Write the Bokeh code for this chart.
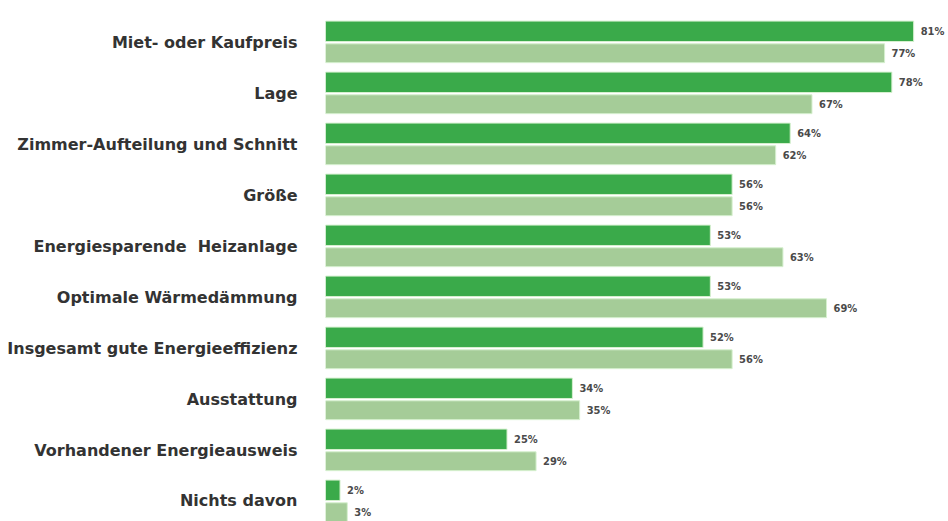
from bokeh.plotting import figure
from bokeh.models import Range1d, FixedTicker, ColumnDataSource
from bokeh.core.properties import value
from bokeh.embed import file_html
from bokeh.resources import INLINE

categories = [
    "Miet- oder Kaufpreis",
    "Lage",
    "Zimmer-Aufteilung und Schnitt",
    "Größe",
    "Energiesparende \u00a0Heizanlage",
    "Optimale Wärmedämmung",
    "Insgesamt gute Energieeffizienz",
    "Ausstattung",
    "Vorhandener Energieausweis",
    "Nichts davon",
]
series_dark = [81, 78, 64, 56, 53, 53, 52, 34, 25, 2]
series_light = [77, 67, 62, 56, 63, 69, 56, 35, 29, 3]

DARK = "#3aaa4a"
LIGHT = "#a5cc98"
EDGE = "#d6f0cf"
LABEL_FONT = "DejaVu Sans"

idx = list(range(len(categories)))
dark_src = ColumnDataSource(dict(
    y=[i - 0.21 for i in idx], v=series_dark,
    t=[f"{v}%" for v in series_dark]))
light_src = ColumnDataSource(dict(
    y=[i + 0.22 for i in idx], v=series_light,
    t=[f"{v}%" for v in series_light]))

p = figure(width=948, height=521, output_backend="svg", toolbar_location=None,
           x_range=Range1d(0, 85.8), y_range=Range1d(9.402, -0.814),
           min_border_left=325, min_border_right=0, min_border_top=0,
           min_border_bottom=0, outline_line_color=None,
           background_fill_color="white", border_fill_color="white")

p.hbar(y="y", right="v", left=0, height=0.40, source=dark_src,
       fill_color=DARK, line_color=EDGE, line_width=1)
p.hbar(y="y", right="v", left=0, height=0.37, source=light_src,
       fill_color=LIGHT, line_color=EDGE, line_width=1)

for src in (dark_src, light_src):
    p.text(x="v", y="y", text="t", source=src, x_offset=7,
           text_baseline="middle", text_align="left",
           text_font=value("DejaVu Sans Condensed"), text_font_style="bold",
           text_font_size="11px", text_color="#4a4a4a")

p.xaxis.visible = False
p.xgrid.visible = False
p.ygrid.visible = False

ya = p.yaxis[0]
ya.ticker = FixedTicker(ticks=idx)
ya.major_label_overrides = {i: c for i, c in enumerate(categories)}
ya.axis_line_color = None
ya.major_tick_line_color = None
ya.minor_tick_line_color = None
ya.major_label_standoff = 22
ya.major_label_text_font = LABEL_FONT
ya.major_label_text_font_style = "bold"
ya.major_label_text_font_size = "16px"
ya.major_label_text_color = "#333333"

open("out.html", "w").write(file_html(p, INLINE))
